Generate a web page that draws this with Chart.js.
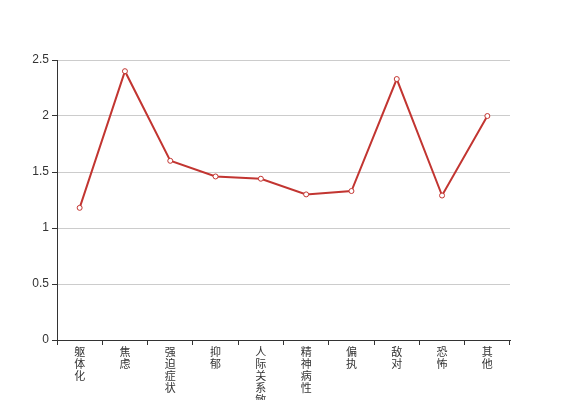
<!DOCTYPE html>
<html>
<head>
<meta charset="utf-8">
<script src="https://cdn.jsdelivr.net/npm/chart.js@4"></script>
<style>
  html, body { margin: 0; padding: 0; background: #fff; }
  #wrap { width: 567px; height: 400px; }
</style>
</head>
<body>
<div id="wrap"><canvas id="chart" width="567" height="400"></canvas></div>
<script>
const categories = ['躯体化', '焦虑', '强迫症状', '抑郁', '人际关系敏感', '精神病性', '偏执', '敌对', '恐怖', '其他'];
const scores = [1.18, 2.40, 1.60, 1.46, 1.44, 1.30, 1.33, 2.33, 1.29, 2.00];
const yTicks = [0, 0.5, 1, 1.5, 2, 2.5];

const axisColor = '#333';
const fontFamily = '"Liberation Sans", "Noto Sans CJK SC", sans-serif';

new Chart(document.getElementById('chart'), {
  type: 'line',
  data: {
    // one character per line, like the vertical labels in the picture
    labels: categories.map((name) => name.split('')),
    datasets: [
      {
        data: scores,
        borderColor: '#c23531',
        borderWidth: 2,
        backgroundColor: '#fff',
        pointBackgroundColor: '#fff',
        pointBorderColor: '#c23531',
        pointBorderWidth: 1,
        pointRadius: 2.5,
        tension: 0
      }
    ]
  },
  options: {
    responsive: false,
    animation: false,
    layout: { padding: { top: 60, right: 57, left: 0, bottom: 0 } },
    plugins: {
      legend: { display: false },
      tooltip: { enabled: false }
    },
    scales: {
      x: {
        offset: true,
        grid: {
          offset: true,
          drawOnChartArea: false,
          tickLength: 5,
          tickColor: axisColor
        },
        border: { color: axisColor, width: 1 },
        ticks: {
          color: axisColor,
          padding: 2,
          maxRotation: 0,
          autoSkip: false,
          font: { family: fontFamily, size: 11, lineHeight: '12px' }
        },
        afterFit: (scale) => { scale.height = 60; }
      },
      y: {
        min: 0,
        max: 2.5,
        afterBuildTicks: (scale) => { scale.ticks = yTicks.map((v) => ({ value: v })); },
        grid: {
          color: '#ccc',
          tickLength: 5,
          tickColor: axisColor
        },
        border: { color: axisColor, width: 1 },
        ticks: {
          color: axisColor,
          padding: 3,
          font: { family: fontFamily, size: 12 },
          callback: (value) => String(value)
        },
        afterFit: (scale) => { scale.width = 57; }
      }
    }
  }
});
</script>
</body>
</html>
